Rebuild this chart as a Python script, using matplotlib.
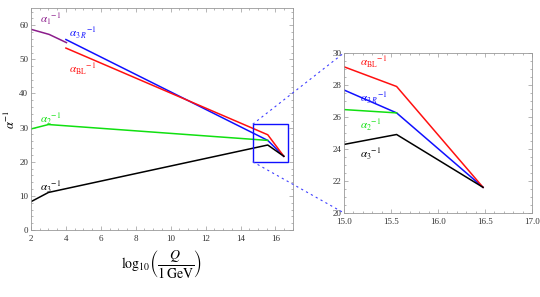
import numpy as np
import matplotlib
matplotlib.use('Agg')
import matplotlib.pyplot as plt
from matplotlib.patches import Rectangle
from matplotlib.ticker import MultipleLocator

plt.rcParams['font.family'] = ['Liberation Serif', 'DejaVu Serif']
plt.rcParams['mathtext.fontset'] = 'stix'

# inverse couplings vs log10(Q / 1 GeV)
a1_x = [2.0, 3.04, 4.03]
a1_y = [58.8, 57.3, 54.9]
a3R_x = [4.0, 15.56, 16.48]
a3R_y = [55.8, 26.25, 21.6]
aBL_x = [4.0, 15.56, 16.48]
aBL_y = [53.3, 27.9, 21.6]
a2_x = [2.0, 3.0, 15.56]
a2_y = [29.6, 30.9, 26.25]
a3_x = [2.0, 3.0, 15.56, 16.48]
a3_y = [8.3, 11.0, 24.9, 21.6]

series = [
    (a1_x, a1_y, '#8B1C8B'),
    (a3R_x, a3R_y, '#1010FF'),
    (aBL_x, aBL_y, '#FF1010'),
    (a2_x, a2_y, '#10E010'),
    (a3_x, a3_y, 'black'),
]

zoom_box = (14.7, 20.0, 2.0, 11.0)  # x0, y0, width, height

fig = plt.figure(figsize=(5.4, 2.97), dpi=100)
ax = fig.add_axes([0.0574, 0.2256, 0.485, 0.747])
ins = fig.add_axes([0.637, 0.283, 0.348, 0.539])


def style(a):
    for s in a.spines.values():
        s.set_color('#999999')
        s.set_linewidth(0.6)
    a.tick_params(which='both', direction='in', top=True, right=True,
                  colors='#999999', labelcolor='#333333', labelsize=6.5,
                  width=0.5, pad=2)
    a.tick_params(which='major', length=3)
    a.tick_params(which='minor', length=1.5)
    a.tick_params(axis='x', which='both', pad=3.5)


for x, y, c in series:
    ax.plot(x, y, color=c, lw=1.1)
    ins.plot(x, y, color=c, lw=1.1)

ax.set_xlim(2, 17)
ax.set_ylim(0, 65)
ax.xaxis.set_major_locator(MultipleLocator(2))
ax.xaxis.set_minor_locator(MultipleLocator(0.5))
ax.yaxis.set_major_locator(MultipleLocator(10))
ax.yaxis.set_minor_locator(MultipleLocator(2))
style(ax)

ins.set_xlim(15, 17)
ins.set_ylim(20, 30)
ins.xaxis.set_major_locator(MultipleLocator(0.5))
ins.xaxis.set_minor_locator(MultipleLocator(0.1))
ins.yaxis.set_major_locator(MultipleLocator(2))
ins.yaxis.set_minor_locator(MultipleLocator(0.5))
ins.xaxis.set_major_formatter(matplotlib.ticker.FormatStrFormatter('%.1f'))
style(ins)

ax.set_ylabel(r'$\alpha^{-1}$', fontsize=9, labelpad=1)
ax.set_xlabel(r'$\log_{10}\!\left(\dfrac{Q}{1\,\mathrm{GeV}}\right)$', fontsize=10, labelpad=4)

# labels in the main panel
ax.text(2.5, 60.5, r'$\alpha_1{}^{-1}$', color='#8B1C8B', fontsize=8)
ax.text(4.2, 56.3, r'$\alpha_{3\ R}{}^{-1}$', color='#1010FF', fontsize=8)
ax.text(4.2, 46.0, r'$\alpha_{\mathrm{BL}}{}^{-1}$', color='#FF1010', fontsize=8)
ax.text(2.5, 31.3, r'$\alpha_2{}^{-1}$', color='#10E010', fontsize=8)
ax.text(2.5, 11.2, r'$\alpha_3{}^{-1}$', color='black', fontsize=8)

# labels in the inset
ins.text(15.17, 29.15, r'$\alpha_{\mathrm{BL}}{}^{-1}$', color='#FF1010', fontsize=8)
ins.text(15.17, 26.9, r'$\alpha_{3\ R}{}^{-1}$', color='#1010FF', fontsize=8)
ins.text(15.17, 25.2, r'$\alpha_2{}^{-1}$', color='#10E010', fontsize=8)
ins.text(15.17, 23.4, r'$\alpha_3{}^{-1}$', color='black', fontsize=8)

x0, y0, w, h = zoom_box
ax.add_patch(Rectangle((x0, y0), w, h, fill=False, edgecolor='#1010FF', lw=1.0, zorder=5))

# dashed connectors from box corners to the inset
for yb, yi in [(y0 + h, 30), (y0, 20)]:
    p1 = fig.transFigure.inverted().transform(ax.transData.transform((x0, yb)))
    p2 = fig.transFigure.inverted().transform(ins.transData.transform((15, yi)))
    fig.add_artist(plt.Line2D([p1[0], p2[0]], [p1[1], p2[1]], transform=fig.transFigure,
                              color='#4040FF', lw=0.8, ls=(0, (2, 3))))

fig.savefig('out.png', dpi=100)
